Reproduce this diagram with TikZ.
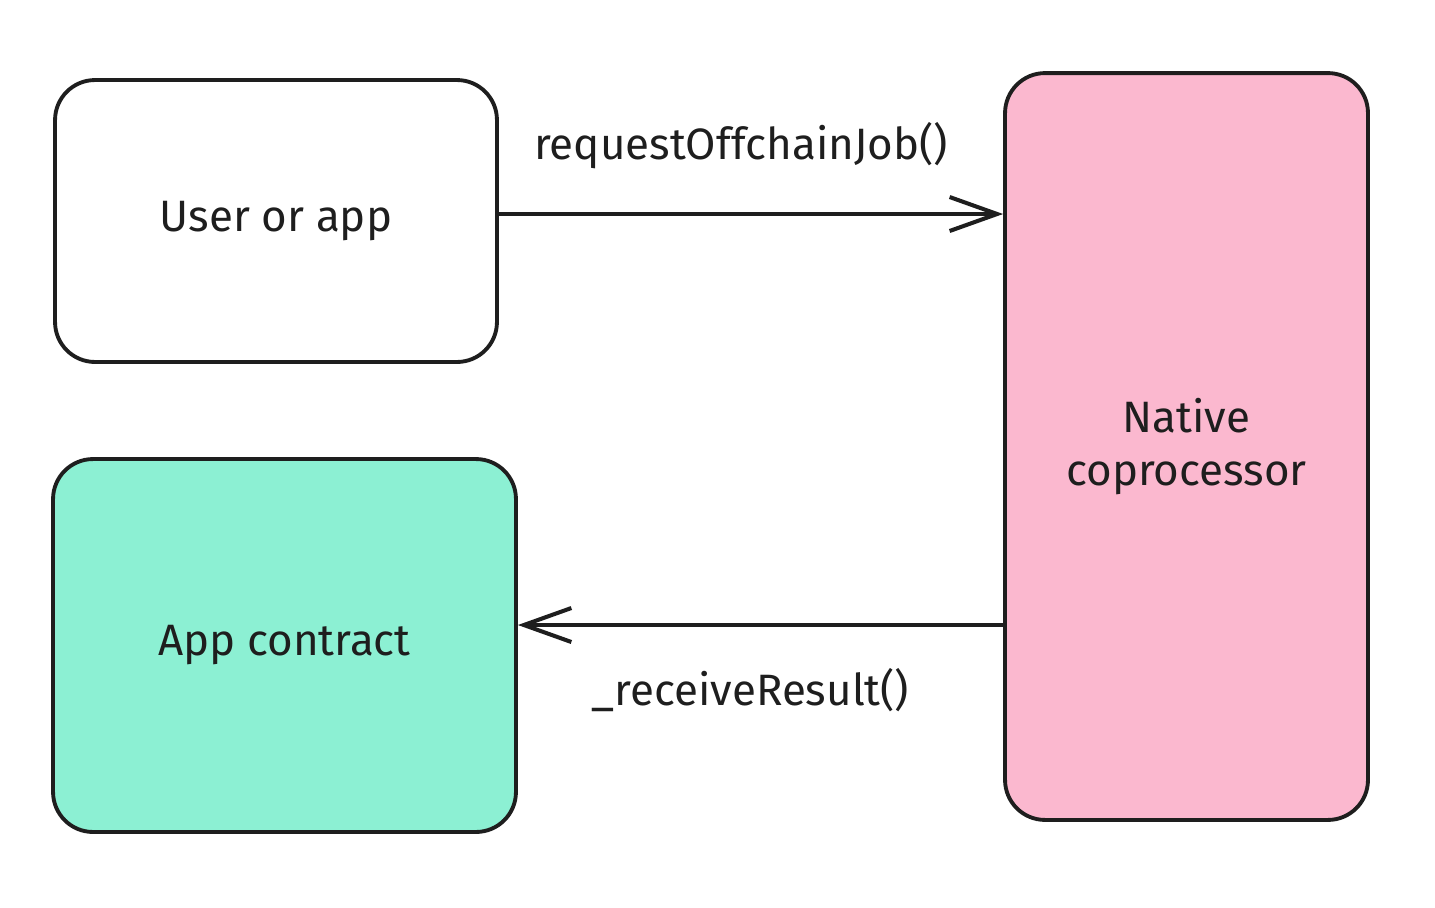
\documentclass[tikz,border=0pt]{standalone}
\usepackage{fontspec}
\setmainfont{Fira Sans}
\usepackage{tikz}
\usepackage{xcolor}
\usetikzlibrary{arrows.meta}
\definecolor{ink}{HTML}{1E1E1E}
\definecolor{mint}{HTML}{8CF0D3}
\definecolor{rose}{HTML}{FBB8CF}
\begin{document}
\begin{tikzpicture}%
  [x=0.02cm,y=-0.02cm,font=\fontsize{25}{30}\selectfont,text=ink]
  \tikzstyle{box node}=[rectangle,draw=ink,line width=2.2pt,rounded corners=0.8cm,align=center]
  \tikzstyle{call edge}=[draw=ink,line width=2.3pt,-{Straight Barb[length=0.95cm,width=0.68cm,line width=2.3pt]}]
  \useasboundingbox (0,0) rectangle (1435,907);
  \node(user)[box node,fill=white,minimum width=8.84cm,minimum height=5.64cm] at (276,221){User or app};
  \node(app)[box node,fill=mint,minimum width=9.26cm,minimum height=7.46cm] at (284.5,645.5){App contract};
  \node(native)[box node,fill=rose,minimum width=7.26cm,minimum height=14.94cm] at (1186.5,446.5){Native\\coprocessor};
  \coordinate(req) at ([yshift=0.14cm]user.east);
  \coordinate(res) at ([yshift=0.41cm]app.east);
  \draw[call edge] (req) -- (req -| native.west)
    node(reqlabel)[midway,above=0.75cm,xshift=-0.2cm]{requestOffchainJob()};
  \draw[call edge] (res -| native.west) -- (res)
    node(reslabel)[midway,below=0.7cm,xshift=-0.2cm]{\_receiveResult()};
\end{tikzpicture}
\end{document}
